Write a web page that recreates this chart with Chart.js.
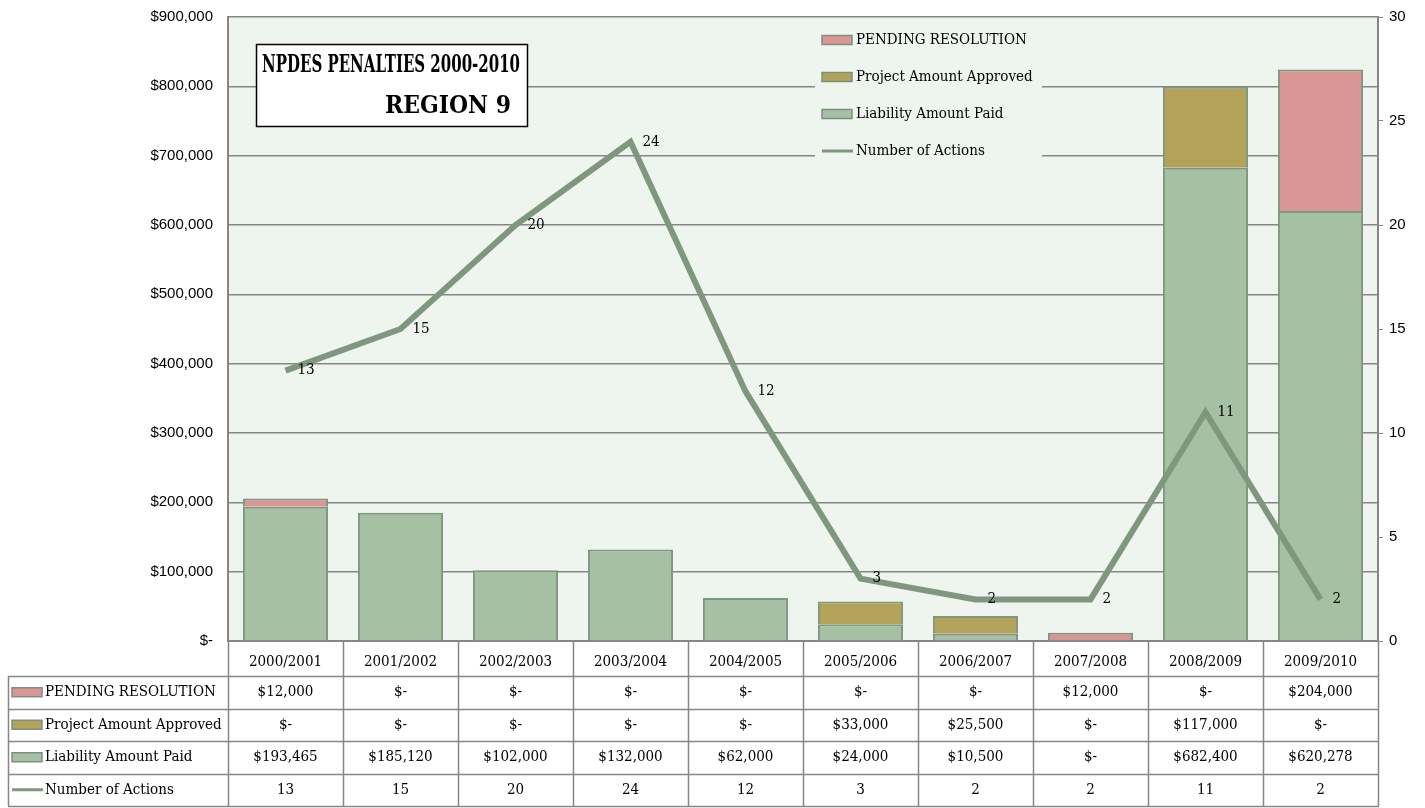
<!DOCTYPE html>
<html>
<head>
<meta charset="utf-8">
<script src="https://cdn.jsdelivr.net/npm/chart.js@4.4.1/dist/chart.umd.min.js"></script>
<style>
*{margin:0;padding:0}
body{background:#fff;width:1425px;height:808px;overflow:hidden}
#wrap{position:relative;width:1425px;height:808px}
</style>
</head>
<body>
<div id="wrap"><canvas id="c" width="1425" height="808"></canvas></div>
<script>
// data
const years = ['2000/2001','2001/2002','2002/2003','2003/2004','2004/2005','2005/2006','2006/2007','2007/2008','2008/2009','2009/2010'];
const pending = [12000, 0, 0, 0, 0, 0, 0, 12000, 0, 204000];
const project = [0, 0, 0, 0, 0, 33000, 25500, 0, 117000, 0];
const liability = [193465, 185120, 102000, 132000, 62000, 24000, 10500, 0, 682400, 620278];
const actions = [13, 15, 20, 24, 12, 3, 2, 2, 11, 2];
const moneyTicks = [0, 100000, 200000, 300000, 400000, 500000, 600000, 700000, 800000, 900000];

const SERIF = "'DejaVu Serif Condensed','DejaVu Serif',serif";
const SANS = "'Liberation Sans',Arial,sans-serif";
const PLOT_BG = '#eef5ee';
const GRID = '#868686';
const LINE = '#7f967f';

function money(v) { return v === 0 ? '$-' : '$' + v.toLocaleString('en-US'); }

// rows of the data table, top to bottom (same order as legend)
const tableRows = [
  { label: 'PENDING RESOLUTION', values: pending, fmt: money, color: '#da9694', kind: 'box' },
  { label: 'Project Amount Approved', values: project, fmt: money, color: '#b3a25a', kind: 'box' },
  { label: 'Liability Amount Paid', values: liability, fmt: money, color: '#a6c0a4', kind: 'box' },
  { label: 'Number of Actions', values: actions, fmt: v => String(v), color: LINE, kind: 'line' }
];

function swatch(ctx, r, x, y) {
  if (r.kind === 'box') {
    ctx.fillStyle = r.color;
    ctx.fillRect(x, y - 4.5, 30, 9);
    ctx.strokeStyle = '#7f8f7f';
    ctx.lineWidth = 1.5;
    ctx.strokeRect(x, y - 4.5, 30, 9);
  } else {
    ctx.strokeStyle = r.color;
    ctx.lineWidth = 3;
    ctx.beginPath(); ctx.moveTo(x, y); ctx.lineTo(x + 31, y); ctx.stroke();
  }
}

const decor = {
  id: 'decor',
  beforeDraw(chart) {
    const { ctx, chartArea: a } = chart;
    ctx.save();
    ctx.fillStyle = '#fff';
    ctx.fillRect(0, 0, chart.width, chart.height);
    ctx.fillStyle = PLOT_BG;
    ctx.fillRect(a.left, a.top, a.right - a.left, a.bottom - a.top);
    ctx.restore();
  },
  beforeDatasetsDraw(chart) {
    // legend inside the plot, covering the grid lines
    const { ctx, chartArea: a } = chart;
    ctx.save();
    ctx.fillStyle = PLOT_BG;
    ctx.fillRect(815, a.top + 4, 227, 152);
    ctx.font = '15px ' + SERIF;
    ctx.textBaseline = 'middle';
    tableRows.forEach((r, i) => {
      const y = 40 + i * 37;
      swatch(ctx, r, 822, y);
      ctx.fillStyle = '#000';
      ctx.fillText(r.label, 856, y, 180);
    });
    ctx.restore();
  },
  afterDraw(chart) {
    const { ctx, chartArea: a, scales } = chart;
    const x = scales.x;
    const n = years.length;
    const cw = (a.right - a.left) / n;
    const hTop = a.bottom, hBot = a.bottom + 35;
    const rowH = (chart.height - 2 - hBot) / tableRows.length;
    ctx.save();
    ctx.strokeStyle = GRID;
    ctx.lineWidth = 1.5;
    // header cell borders
    for (let i = 0; i <= n; i++) {
      const xx = Math.round(a.left + i * cw) + 0.5;
      ctx.beginPath(); ctx.moveTo(xx, hTop); ctx.lineTo(xx, chart.height - 2); ctx.stroke();
    }
    ctx.beginPath(); ctx.moveTo(8.5, hBot); ctx.lineTo(8.5, chart.height - 2); ctx.stroke();
    for (let j = 0; j <= tableRows.length; j++) {
      const yy = Math.round(hBot + j * rowH) + 0.5;
      ctx.beginPath(); ctx.moveTo(8, yy); ctx.lineTo(a.right + 1, yy); ctx.stroke();
    }
    ctx.font = '15px ' + SERIF;
    ctx.textBaseline = 'middle';
    tableRows.forEach((r, j) => {
      const cy = hBot + j * rowH + rowH / 2;
      swatch(ctx, r, 12, cy);
      ctx.fillStyle = '#000';
      ctx.textAlign = 'left';
      ctx.fillText(r.label, 45, cy, a.left - 50);
      ctx.textAlign = 'center';
      r.values.forEach((v, i) => ctx.fillText(r.fmt(v), x.getPixelForValue(i), cy));
    });

    // labels on the line points
    const meta = chart.getDatasetMeta(3);
    ctx.textAlign = 'left';
    meta.data.forEach((p, i) => ctx.fillText(String(actions[i]), p.x + 12, p.y));

    // title box
    ctx.fillStyle = '#fff';
    ctx.fillRect(256, 44, 271, 82);
    ctx.strokeStyle = '#000';
    ctx.lineWidth = 1.5;
    ctx.strokeRect(256.5, 44.5, 271, 82);
    ctx.fillStyle = '#000';
    ctx.font = "bold 25px 'DejaVu Serif',serif";
    ctx.textAlign = 'center';
    ctx.fillText('NPDES PENALTIES 2000-2010', 391, 65, 258);
    ctx.fillText('REGION 9', 448, 106, 126);
    ctx.restore();
  }
};

new Chart(document.getElementById('c'), {
  type: 'bar',
  plugins: [decor],
  data: {
    labels: years,
    datasets: [
      { label: 'Liability Amount Paid', data: liability, backgroundColor: '#a6c0a4', borderColor: '#7f967f', borderWidth: 2, yAxisID: 'y', order: 2 },
      { label: 'Project Amount Approved', data: project, backgroundColor: '#b3a25a', borderColor: '#7f967f', borderWidth: 2, yAxisID: 'y', order: 2 },
      { label: 'PENDING RESOLUTION', data: pending, backgroundColor: '#da9694', borderColor: '#7f967f', borderWidth: 2, yAxisID: 'y', order: 2 },
      { label: 'Number of Actions', type: 'line', data: actions, borderColor: LINE, borderWidth: 6, pointRadius: 0, tension: 0, yAxisID: 'y1', order: 1 }
    ]
  },
  options: {
    responsive: false,
    animation: false,
    devicePixelRatio: 1,
    layout: { padding: { top: 17, bottom: 132, left: 0, right: 0 } },
    plugins: { legend: { display: false }, tooltip: { enabled: false } },
    datasets: { bar: { barPercentage: 0.74, categoryPercentage: 1 } },
    scales: {
      x: {
        stacked: true,
        grid: { display: false },
        border: { color: GRID, width: 2 },
        ticks: { font: { family: SERIF, size: 15 }, color: '#000', padding: 4, maxRotation: 0, autoSkip: false },
        afterFit(s) { s.height = 35; }
      },
      y: {
        stacked: true,
        position: 'left',
        min: 0, max: 900000,
        afterBuildTicks(s) { s.ticks = moneyTicks.map(v => ({ value: v })); },
        grid: { color: GRID, lineWidth: 1.5, drawTicks: false },
        border: { color: GRID, width: 2 },
        ticks: { font: { family: SANS, size: 15 }, color: '#000', padding: 15, callback: v => money(v) },
        afterFit(s) { s.width = 228; s.paddingTop = 0; s.paddingBottom = 0; }
      },
      y1: {
        position: 'right',
        min: 0, max: 30,
        ticks: { stepSize: 5, font: { family: SANS, size: 15 }, color: '#000', padding: 6 },
        grid: { drawOnChartArea: false, color: GRID, tickLength: 5 },
        border: { color: GRID, width: 2 },
        afterFit(s) { s.width = 47; s.paddingTop = 0; s.paddingBottom = 0; }
      }
    }
  }
});
</script>
</body>
</html>
